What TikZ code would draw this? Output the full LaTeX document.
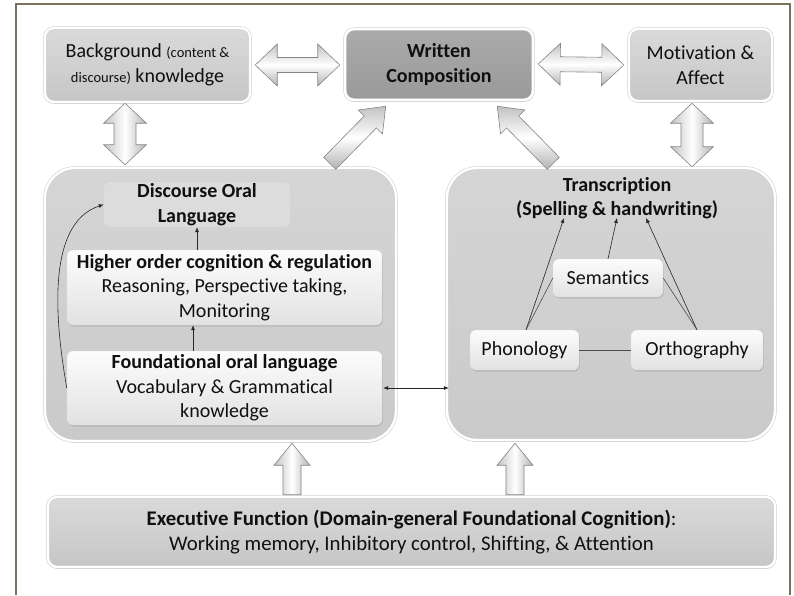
\documentclass[tikz,border=0pt]{standalone}
\usepackage{fontspec}
\setmainfont{Carlito}[Ligatures=NoCommon]
\usetikzlibrary{calc,shadows,arrows.meta}

\definecolor{framec}{HTML}{7B715F}
\definecolor{txt}{HTML}{101010}
\definecolor{boxtop}{HTML}{DADADA}
\definecolor{boxbot}{HTML}{C6C6C6}
\definecolor{darktop}{HTML}{ABABAB}
\definecolor{darkbot}{HTML}{999999}
\definecolor{paneltop}{HTML}{D5D5D5}
\definecolor{panelbot}{HTML}{CACACA}
\definecolor{discfill}{HTML}{DCDCDC}
\definecolor{lighttop}{HTML}{FCFCFC}
\definecolor{lightbot}{HTML}{E2E2E2}
\definecolor{arrowedge}{HTML}{858585}

\tikzset{
  x=1pt, y=1pt,
  bodyfont/.style={font=\fontsize{20}{24.5}\selectfont},
  glowbox/.style={rounded corners=9pt, draw=black!20, double=white,
    double distance=2.4pt, line width=0.5pt,
    drop shadow={shadow xshift=0.6pt, shadow yshift=-1.8pt, opacity=0.28},
    align=center, inner sep=0pt, text=txt, bodyfont},
  greybox/.style={glowbox, top color=boxtop, bottom color=boxbot},
  darkbox/.style={glowbox, top color=darktop, bottom color=darkbot},
  panel/.style={glowbox, rounded corners=30pt, top color=paneltop, bottom color=panelbot},
  whitebox/.style={rounded corners=6pt, draw=black!12, line width=0.4pt,
    top color=lighttop, bottom color=lightbot,
    drop shadow={shadow xshift=0.8pt, shadow yshift=-1.5pt, opacity=0.3},
    align=center, inner sep=0pt, text=txt, bodyfont},
  discbox/.style={rounded corners=6pt, fill=discfill, align=center,
    inner sep=0pt, text=txt, bodyfont},
  blockarr/.style={draw=arrowedge, line width=0.6pt, line join=miter},
  harr/.style={blockarr, top color=black!24, bottom color=black!30, middle color=white},
  varr/.style={blockarr, left color=black!24, right color=black!30, middle color=white},
  thin/.style={line width=0.6pt, draw=black!85, -{Latex[length=5pt,width=4pt]}},
  plain/.style={line width=0.6pt, draw=black!70},
}

% block arrow with one head: tail (#1), tip (#2), style #3, shaft half width #4,
% head half width #5, head length #6 (all in pt)
\newcommand{\blkone}[6]{%
  \coordinate (hb) at ($(#2)!#6pt!(#1)$);
  \draw[#3] ($(#1)!#4pt!90:(#2)$)
    -- ($(hb)!#4pt!90:(#2)$) -- ($(hb)!#5pt!90:(#2)$) -- (#2)
    -- ($(hb)!#5pt!-90:(#2)$) -- ($(hb)!#4pt!-90:(#2)$)
    -- ($(#1)!#4pt!-90:(#2)$) -- cycle;}
% block arrow with two heads between (#1) and (#2)
\newcommand{\blktwo}[6]{%
  \coordinate (ha) at ($(#1)!#6pt!(#2)$);
  \coordinate (hb) at ($(#2)!#6pt!(#1)$);
  \draw[#3] (#1) -- ($(ha)!#5pt!90:(#2)$) -- ($(ha)!#4pt!90:(#2)$)
    -- ($(hb)!#4pt!90:(#2)$) -- ($(hb)!#5pt!90:(#2)$) -- (#2)
    -- ($(hb)!#5pt!-90:(#2)$) -- ($(hb)!#4pt!-90:(#2)$)
    -- ($(ha)!#4pt!-90:(#2)$) -- ($(ha)!#5pt!-90:(#2)$) -- cycle;}

\begin{document}
\begin{tikzpicture}
\useasboundingbox (0,0) rectangle (794,-595);
\fill[white] (0,0) rectangle (794,-595);

% outer frame
\draw[framec, line width=1.4pt] (16,-595) -- (16,-4) -- (790,-4) -- (790,-595);

% top row
\node[greybox, minimum width=205, minimum height=74] (bg) at (147.5,-65)
  {Background {\fontsize{14.5}{24.5}\selectfont(content \&}\\{\fontsize{14.5}{24.5}\selectfont discourse)} knowledge};
\node[darkbox, minimum width=188, minimum height=71, font=\bfseries\fontsize{20}{24.5}\selectfont] (wc) at (439,-64.5)
  {Written\\Composition};
\node[greybox, minimum width=143, minimum height=72] (mot) at (700.5,-65)
  {Motivation \&\\Affect};

% the two large panels
\node[panel, minimum width=351, minimum height=273] (lp) at (220.5,-304.5) {};
\node[panel, minimum width=328, minimum height=272] (rp) at (611,-304) {};

% oral language side
\node[discbox, minimum width=186, minimum height=45, font=\bfseries\fontsize{20}{24.5}\selectfont] (disc) at (197,-204.5)
  {Discourse Oral\\Language};
\node[whitebox, minimum width=315, minimum height=75] (hoc) at (224.5,-287.5)
  {\textbf{Higher order cognition \& regulation}\\Reasoning, Perspective taking,\\Monitoring};
\node[whitebox, minimum width=315, minimum height=74] (fol) at (224.5,-388)
  {\textbf{Foundational oral language}\\Vocabulary \& Grammatical\\knowledge};

% transcription side
\node[align=center, inner sep=0pt, text=txt, font=\bfseries\fontsize{20}{24.5}\selectfont] (trans) at (617,-198)
  {Transcription\\(Spelling \& handwriting)};
\node[whitebox, minimum width=110, minimum height=38] (sem) at (608,-278) {Semantics};
\node[whitebox, minimum width=109, minimum height=40] (pho) at (524.5,-350) {Phonology};
\node[whitebox, minimum width=132, minimum height=40] (ort) at (697,-350) {Orthography};

% executive function
\node[greybox, minimum width=727, minimum height=70, font=\fontsize{20.8}{25}\selectfont] (exec) at (411.5,-532)
  {\textbf{Executive Function (Domain-general Foundational Cognition)}:\\Working memory, Inhibitory control, Shifting, \& Attention};

% thin connectors, oral language
\draw[thin] (hoc.north -| disc.south) -- (disc.south);
\draw[thin] ([xshift=-4pt]fol.north -| disc.south) -- ([xshift=-4pt]hoc.south -| disc.south);
\draw[thin] (fol.west) to[out=100, in=198, looseness=0.85] (disc.west);
\draw[line width=0.6pt, draw=black!85, {Latex[length=5pt,width=4pt]}-{Latex[length=5pt,width=4pt]}]
  ([xshift=1pt]fol.east) -- ([xshift=2pt]fol.east -| rp.west);

% thin connectors, transcription
\coordinate (t1) at ($(trans.center)+(-53,-20)$);
\coordinate (t2) at ($(trans.center)+(0,-20)$);
\coordinate (t3) at ($(trans.center)+(29,-20)$);
\coordinate (pn) at ($(pho.north)+(1.5,0)$);
\draw[thin] (pn) -- (t1);
\draw[plain] (pn) -- (sem.west);
\draw[thin] (sem.north) -- (t2);
\draw[thin] (ort.north) -- (t3);
\draw[plain] (ort.north) -- (sem.east);
\draw[plain] (pho.east) -- (ort.west);

% block arrows, top row
\coordinate (h1a) at ($(bg.east)+(5,0)$);
\coordinate (h1b) at ($(wc.west)+(-5,-0.5)$);
\blktwo{h1a}{h1b}{harr}{7.5}{21}{22}
\coordinate (h2a) at ($(wc.east)+(5,0.5)$);
\coordinate (h2b) at ($(mot.west)+(-5,0)$);
\blktwo{h2a}{h2b}{harr}{7.5}{21}{22}

% block arrows, vertical links to the panels
\coordinate (v1a) at ($(bg.south)+(-22.5,-1)$);
\coordinate (v1b) at ($(v1a |- lp.north)+(0,3)$);
\blktwo{v1a}{v1b}{varr}{11}{21.5}{20}
\coordinate (v2a) at ($(mot.south)+(-8.5,-2)$);
\coordinate (v2b) at ($(v2a |- rp.north)+(0,1)$);
\blktwo{v2a}{v2b}{varr}{11}{21.5}{20}

% diagonal arrows into written composition
\coordinate (d1b) at ($(wc.south west)+(41,-6)$);
\coordinate (d1a) at ($(d1b)+(-56,-57)$);
\blkone{d1a}{d1b}{harr}{8.5}{17}{22}
\coordinate (d2b) at ($(wc.south east)+(-36,-6)$);
\coordinate (d2a) at ($(d2b)+(56,-57)$);
\blkone{d2a}{d2b}{harr}{8.5}{17}{22}

% executive function feeding both panels
\coordinate (u1b) at ($(lp.south)+(71.5,-2)$);
\coordinate (u1a) at ($(u1b |- exec.north)+(0,2)$);
\blkone{u1a}{u1b}{varr}{9}{18}{22}
\coordinate (u2b) at ($(rp.south)+(-96,-3)$);
\coordinate (u2a) at ($(u2b |- exec.north)+(0,2)$);
\blkone{u2a}{u2b}{varr}{9}{18}{22}
\end{tikzpicture}
\end{document}
